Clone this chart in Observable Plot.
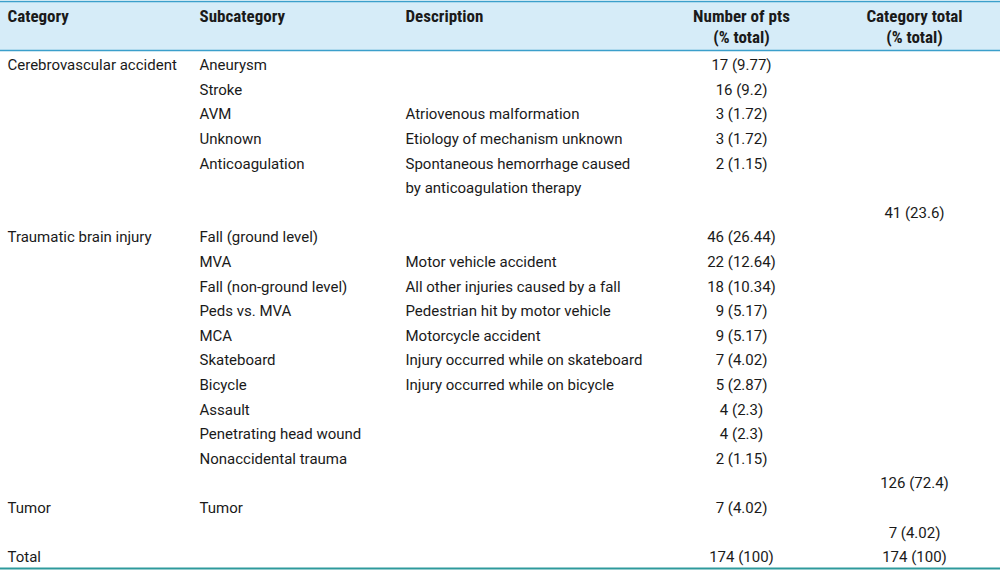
<!DOCTYPE html>
<html>
<head>
<meta charset="utf-8">
<script src="https://cdn.jsdelivr.net/npm/d3@7"></script>
<script src="https://cdn.jsdelivr.net/npm/@observablehq/plot@0.6"></script>
<style>
  html, body { margin: 0; padding: 0; background: #fff; }
  #chart svg { display: block; }
</style>
</head>
<body>
<div id="chart"></div>
<script>
// ---- Data ----
const headers = ["Category", "Subcategory", "Description", "Number of pts\n(% total)", "Category total\n(% total)"];

const categories = ["Cerebrovascular accident", "Traumatic brain injury", "Tumor"];
const categoryTotals = ["41 (23.6)", "126 (72.4)", "7 (4.02)"];

const subCategory = ["Cerebrovascular accident","Cerebrovascular accident","Cerebrovascular accident","Cerebrovascular accident","Cerebrovascular accident",
  "Traumatic brain injury","Traumatic brain injury","Traumatic brain injury","Traumatic brain injury","Traumatic brain injury",
  "Traumatic brain injury","Traumatic brain injury","Traumatic brain injury","Traumatic brain injury","Traumatic brain injury",
  "Tumor"];
const subcategories = ["Aneurysm","Stroke","AVM","Unknown","Anticoagulation",
  "Fall (ground level)","MVA","Fall (non-ground level)","Peds vs. MVA","MCA",
  "Skateboard","Bicycle","Assault","Penetrating head wound","Nonaccidental trauma",
  "Tumor"];
const descriptions = ["","","Atriovenous malformation","Etiology of mechanism unknown","Spontaneous hemorrhage caused\nby anticoagulation therapy",
  "","Motor vehicle accident","All other injuries caused by a fall","Pedestrian hit by motor vehicle","Motorcycle accident",
  "Injury occurred while on skateboard","Injury occurred while on bicycle","","","",
  ""];
const counts = ["17 (9.77)","16 (9.2)","3 (1.72)","3 (1.72)","2 (1.15)",
  "46 (26.44)","22 (12.64)","18 (10.34)","9 (5.17)","9 (5.17)",
  "7 (4.02)","5 (2.87)","4 (2.3)","4 (2.3)","2 (1.15)",
  "7 (4.02)"];
const totalLabel = "Total";
const grandCount = "174 (100)";
const grandTotal = "174 (100)";

// ---- Layout (derived rows) ----
const cols = {category: 7, sub: 199, desc: 405, n: 741, total: 914};
const cells = [];   // {col, row, text, anchor}
let row = 0;
categories.forEach((cat, ci) => {
  let first = true;
  subcategories.forEach((s, i) => {
    if (subCategory[i] !== cat) return;
    if (first) { cells.push({col: "category", row, text: cat, anchor: "start"}); first = false; }
    cells.push({col: "sub", row, text: s, anchor: "start"});
    const lines = descriptions[i] ? descriptions[i].split("\n") : [];
    lines.forEach((ln, k) => cells.push({col: "desc", row: row + k, text: ln, anchor: "start"}));
    cells.push({col: "n", row, text: counts[i], anchor: "middle"});
    row += Math.max(1, lines.length);
  });
  cells.push({col: "total", row, text: categoryTotals[ci], anchor: "middle"});
  row += 1;
});
cells.push({col: "category", row, text: totalLabel, anchor: "start"});
cells.push({col: "n", row, text: grandCount, anchor: "middle"});
cells.push({col: "total", row, text: grandTotal, anchor: "middle"});
const lastRow = row;

const headKeys = ["category","sub","desc","n","total"];
const headerCells = [];
headers.forEach((h, i) => h.split("\n").forEach((ln, k) => headerCells.push({
  col: headKeys[i], line: k, text: ln, anchor: i < 3 ? "start" : "middle"
})));

const yTop = -2.6, yHeadBottom = -0.61, yBottom = lastRow + 0.45;
const headLine0 = -1.99, headLineStep = 0.86;

const bodyFont = "Roboto, 'Open Sans', sans-serif";
const headFont = "'Liberation Sans Narrow', 'Roboto Condensed', Roboto, sans-serif";

const plot = Plot.plot({
  width: 1000,
  height: 570,
  marginTop: 1, marginBottom: 2, marginLeft: 0, marginRight: 0,
  x: {domain: [0, 1000], range: [0, 1000], axis: null},
  y: {domain: [yTop, yBottom], reverse: true, axis: null},
  style: {background: "#fff"},
  marks: [
    Plot.rect([0], {x1: 0, x2: 1000, y1: yTop, y2: yHeadBottom, fill: "#d6ecf8"}),
    Plot.ruleY([yTop], {stroke: "#3b9fcb", strokeWidth: 1.5}),
    Plot.ruleY([yHeadBottom], {stroke: "#3b9fcb", strokeWidth: 1.5}),
    Plot.ruleY([yBottom], {stroke: "#2e9a9c", strokeWidth: 2}),
    // header
    ...["start","middle"].map(a => Plot.text(headerCells.filter(d => d.anchor === a), {
      x: d => cols[d.col], y: d => headLine0 + d.line * headLineStep, text: "text",
      textAnchor: a, lineAnchor: "middle",
      fontFamily: headFont, fontWeight: "bold", fontSize: 17, fill: "#1a1a1a"
    })),
    // body
    ...["start","middle"].map(a => Plot.text(cells.filter(d => d.anchor === a), {
      x: d => cols[d.col], y: "row", text: "text", textAnchor: a, lineAnchor: "middle",
      fontFamily: bodyFont, fontSize: 15, fill: "#1a1a1a"
    }))
  ]
});
document.getElementById("chart").appendChild(plot);
</script>
</body>
</html>
